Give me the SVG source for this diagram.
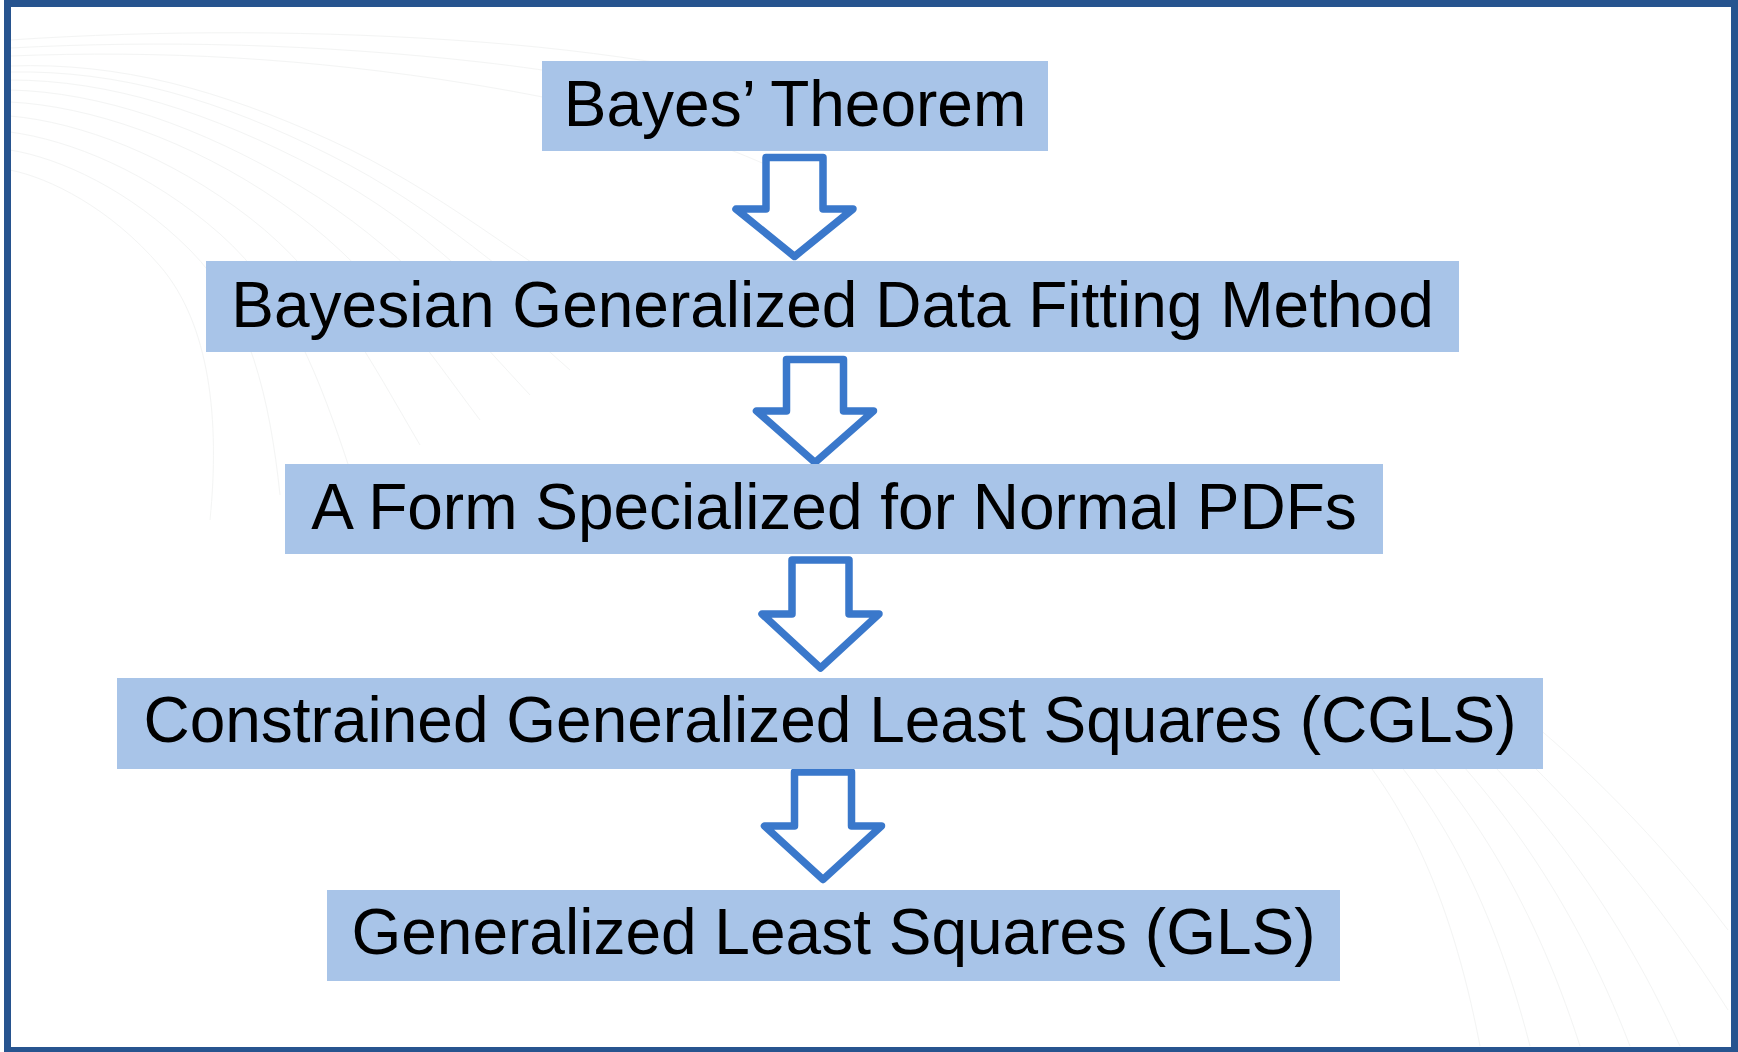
<svg xmlns="http://www.w3.org/2000/svg" width="1738" height="1052" viewBox="0 0 1738 1052">
  <style>
    .box { fill: #A8C4E8; }
    .lbl { font-family: "Liberation Sans", Arial, sans-serif; font-size: 64px; fill: #000000; text-anchor: middle; }
    .arrow { fill: #FFFFFF; stroke: #3A78CB; stroke-width: 7.5; stroke-linejoin: round; }
    .bg { fill: none; stroke: #E6E8E7; stroke-width: 1; }
  </style>
  <rect x="0" y="0" width="1738" height="1052" fill="#FFFFFF"/>
  <g id="background" opacity="0.45">
    <path class="bg" d="M10,66 C120,62 220,90 330,140 S520,260 620,320"/>
    <path class="bg" d="M10,72 C120,70 220,100 330,155 S510,280 600,345"/>
    <path class="bg" d="M10,80 C110,80 210,112 320,170 S490,300 570,370"/>
    <path class="bg" d="M10,90 C100,92 200,126 300,186 S460,320 530,395"/>
    <path class="bg" d="M10,102 C90,106 190,140 280,202 S420,340 480,420"/>
    <path class="bg" d="M10,116 C80,122 170,156 250,218 S370,360 420,445"/>
    <path class="bg" d="M10,132 C70,140 150,172 220,234 S320,380 350,470"/>
    <path class="bg" d="M10,150 C60,158 130,190 190,250 S270,400 280,495"/>
    <path class="bg" d="M10,170 C50,178 110,208 160,266 S220,420 210,520"/>
    <path class="bg" d="M10,40 C160,30 320,30 480,42 S760,80 900,110"/>
    <path class="bg" d="M10,48 C160,40 320,44 480,62 S740,110 860,150"/>
    <path class="bg" d="M10,56 C160,50 310,58 470,84 S720,140 820,190"/>
    <path class="bg" d="M1330,720 C1400,790 1450,890 1480,1046"/>
    <path class="bg" d="M1360,720 C1430,790 1490,890 1530,1046"/>
    <path class="bg" d="M1390,720 C1460,790 1530,890 1580,1046"/>
    <path class="bg" d="M1420,720 C1490,790 1570,890 1630,1046"/>
    <path class="bg" d="M1450,720 C1520,790 1610,890 1680,1046"/>
    <path class="bg" d="M1480,715 C1550,780 1640,870 1728,1010"/>
    <path class="bg" d="M1510,705 C1580,760 1660,840 1728,930"/>
  </g>
  <g id="connectors">
    <path id="arrow1" class="arrow" d="M766,157.5 H823 V209 H853 L794.5,256.5 L736,209 H766 Z"/>
    <path id="arrow2" class="arrow" d="M786.5,359.5 H843.5 V411 H873.5 L815,462.5 L756.5,411 H786.5 Z"/>
    <path id="arrow3" class="arrow" d="M792,560 H849 V614 H879 L820.5,668 L762,614 H792 Z"/>
    <path id="arrow4" class="arrow" d="M794.5,772 H851.5 V826 H881.5 L823,879.5 L764.5,826 H794.5 Z"/>
  </g>
  <g id="node1">
    <rect class="box" x="542" y="61" width="506" height="90"/>
    <text class="lbl" x="795" y="126">Bayes’ Theorem</text>
  </g>
  <g id="node2">
    <rect class="box" x="206" y="261" width="1253" height="91"/>
    <text class="lbl" x="832.5" y="326.5">Bayesian Generalized Data Fitting Method</text>
  </g>
  <g id="node3">
    <rect class="box" x="285" y="464" width="1098" height="90"/>
    <text class="lbl" x="834" y="528.5">A Form Specialized for Normal PDFs</text>
  </g>
  <g id="node4">
    <rect class="box" x="117" y="678" width="1426" height="91"/>
    <text class="lbl" x="830" y="742">Constrained Generalized Least Squares (CGLS)</text>
  </g>
  <g id="node5">
    <rect class="box" x="327" y="890" width="1013" height="91"/>
    <text class="lbl" x="833.5" y="954">Generalized Least Squares (GLS)</text>
  </g>
  <rect id="frame" x="7.5" y="3.5" width="1727" height="1047" fill="none" stroke="#27548F" stroke-width="7"/>
</svg>
